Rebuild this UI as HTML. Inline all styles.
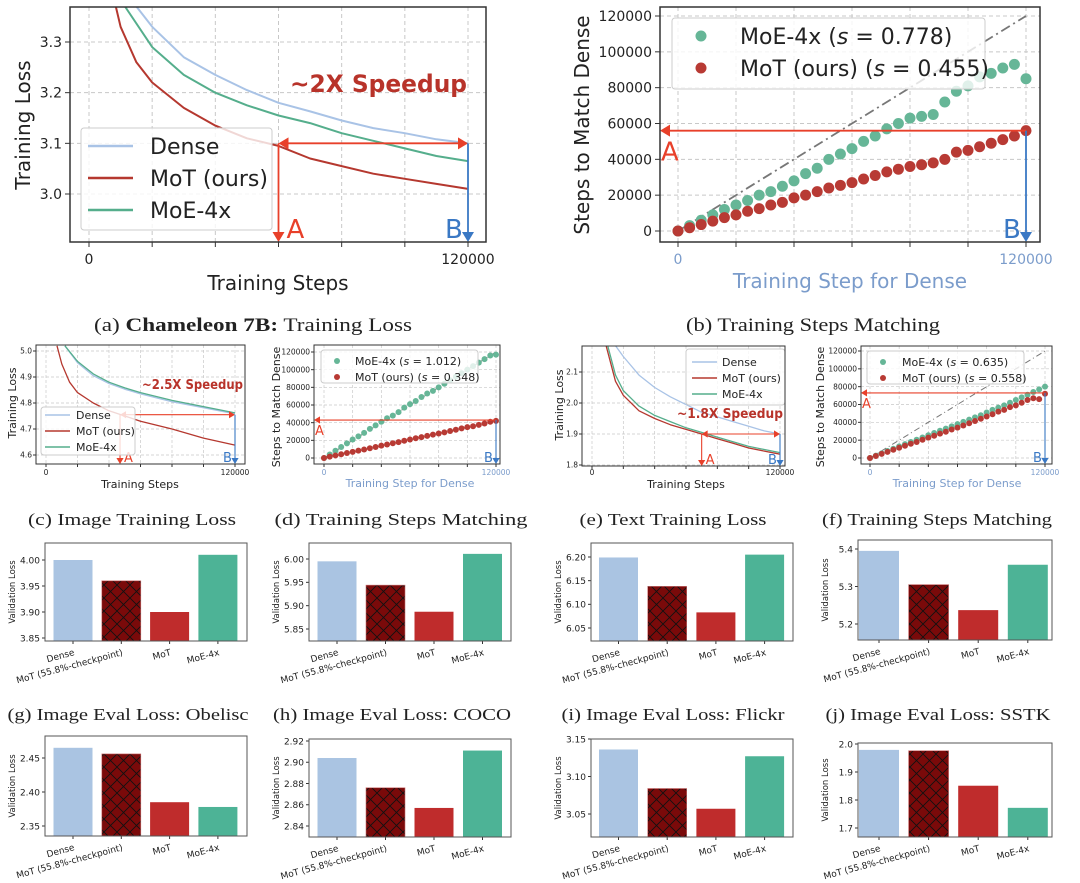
<!DOCTYPE html>
<html><head><meta charset="utf-8"><style>
html,body{margin:0;padding:0;background:#fff;}
svg{display:block;}
</style></head><body>
<svg id="fig" xmlns="http://www.w3.org/2000/svg" width="1080" height="883" viewBox="0 0 1080 883">
<defs>
<pattern id="hatch" patternUnits="userSpaceOnUse" width="13" height="13">
<rect width="13" height="13" fill="#7a0a0a"/>
<path d="M0,0L13,13M13,0L0,13" stroke="#111" stroke-width="0.9"/>
</pattern>
</defs>
<rect x="0" y="0" width="1080" height="883" fill="#fff"/>
</svg>
<script>
// ---------- DATA ----------
// Panel (a)
const aDenseSteps=[15000,20000,30000,40000,50000,60000,70000,80000,90000,100000,110000,120000];
const aDense=[3.37,3.33,3.27,3.235,3.205,3.18,3.163,3.145,3.13,3.12,3.108,3.10];
const aMoESteps=[11400,20000,30000,40000,50000,60000,70000,80000,90000,100000,110000,120000];
const aMoE=[3.37,3.29,3.235,3.20,3.175,3.155,3.14,3.12,3.105,3.09,3.075,3.065];
const aMoTSteps=[8500,10000,15000,20000,30000,40000,50000,60000,70000,80000,90000,100000,110000,120000];
const aMoT=[3.37,3.33,3.26,3.22,3.17,3.135,3.11,3.095,3.07,3.055,3.04,3.03,3.02,3.01];
const aYTicks=[3.0,3.1,3.2,3.3];
const aYLabels=["3.0","3.1","3.2","3.3"];
// Panel (c)
const cDenseSteps=[12000,20000,30000,40000,50000,60000,80000,100000,120000];
const cDense=[5.02,4.955,4.905,4.875,4.853,4.835,4.805,4.782,4.758];
const cMoESteps=[12000,20000,30000,40000,50000,60000,80000,100000,120000];
const cMoE=[5.02,4.96,4.912,4.88,4.858,4.84,4.81,4.786,4.762];
const cMoTSteps=[7000,10000,15000,20000,30000,40000,50000,60000,80000,100000,120000];
const cMoT=[5.02,4.95,4.88,4.84,4.80,4.77,4.75,4.73,4.70,4.665,4.638];
const cYTicks=[4.6,4.7,4.8,4.9,5.0];
const cYLabels=["4.6","4.7","4.8","4.9","5.0"];
// Panel (e)
const eDenseSteps=[15000,20000,30000,40000,50000,60000,70000,80000,90000,100000,110000,120000];
const eDense=[2.185,2.15,2.09,2.05,2.02,1.995,1.97,1.955,1.94,1.925,1.91,1.90];
const eMoESteps=[10000,15000,20000,30000,40000,50000,60000,70000,80000,90000,100000,110000,120000];
const eMoE=[2.185,2.09,2.04,1.99,1.96,1.94,1.92,1.905,1.89,1.875,1.86,1.85,1.84];
const eMoTSteps=[9000,15000,20000,30000,40000,50000,60000,70000,80000,90000,100000,110000,120000];
const eMoT=[2.185,2.07,2.025,1.975,1.95,1.93,1.915,1.90,1.885,1.87,1.855,1.845,1.835];
const eYTicks=[1.8,1.9,2.0,2.1];
const eYLabels=["1.8","1.9","2.0","2.1"];
// Scatter panels (steps for dense, every 4000)
const matchSteps=[0,4000,8000,12000,16000,20000,24000,28000,32000,36000,40000,44000,48000,52000,56000,60000,64000,68000,72000,76000,80000,84000,88000,92000,96000,100000,104000,108000,112000,116000,120000];
const bMoE=[0,3000,6000,9000,12000,14500,17000,20000,22000,25000,28000,32000,35000,40000,43000,46000,50000,53000,57000,60000,63000,64000,65000,72000,78000,81000,86000,88000,91000,93000,85000];
const bMoT=[0,1800,3600,5500,7500,9000,11000,12500,14500,16000,18500,20000,22000,24000,25500,27000,29000,31000,33000,34500,36000,37000,38000,40000,44000,45000,47000,49000,51000,53000,56000];
const dMoE=[0,4000,8200,12500,16500,21000,24500,28500,33000,37000,41000,45000,48000,52000,57000,61000,64500,69000,73000,76000,80000,84000,88000,92000,96000,100000,104000,108000,112000,116000,117000];
const dMoT=[0,1500,2900,4200,5600,7000,8400,9600,11000,12500,14000,15300,16700,18000,19500,21000,22300,23600,25000,26500,27800,29000,30500,32000,33500,35000,36000,37500,39000,41000,42000];
const fMoE=[0,2600,5200,7800,10400,13000,15500,18000,20500,23000,25500,28000,30500,33000,35500,38000,40500,43000,45500,48000,51000,54000,56500,59000,62000,65000,68000,71000,74000,77000,80000];
const fMoT=[0,2300,4600,6900,9200,11500,13800,16000,18000,20500,22800,25000,27300,29500,32000,34000,36500,39000,41500,44000,46500,49000,52000,54000,57000,59000,62000,65000,67000,66000,72000];
const matchYTicks=[0,20000,40000,60000,80000,100000,120000];
const matchYLabels=["0","20000","40000","60000","80000","100000","120000"];
// Bar panels
const barCats=["Dense","MoT (55.8%-checkpoint)","MoT","MoE-4x"];
const gObelisc=[4.00,3.96,3.90,4.01];
const hCOCO=[5.995,5.944,5.887,6.011];
const iFlickr=[6.199,6.138,6.083,6.205];
const jSSTK=[5.395,5.305,5.237,5.358];
const g2Vals=[2.465,2.456,2.385,2.378];
const h2Vals=[2.904,2.876,2.857,2.911];
const i2Vals=[3.136,3.084,3.057,3.127];
const j2Vals=[1.979,1.976,1.851,1.772];
const gTicks=[3.85,3.90,3.95,4.00], gLabels=["3.85","3.90","3.95","4.00"];
const hTicks=[5.85,5.90,5.95,6.00], hLabels=["5.85","5.90","5.95","6.00"];
const iTicks=[6.05,6.10,6.15,6.20], iLabels=["6.05","6.10","6.15","6.20"];
const jTicks=[5.2,5.3,5.4], jLabels=["5.2","5.3","5.4"];
const g2Ticks=[2.35,2.40,2.45], g2Labels=["2.35","2.40","2.45"];
const h2Ticks=[2.84,2.86,2.88,2.90,2.92], h2Labels=["2.84","2.86","2.88","2.90","2.92"];
const i2Ticks=[3.05,3.10,3.15], i2Labels=["3.05","3.10","3.15"];
const j2Ticks=[1.7,1.8,1.9,2.0], j2Labels=["1.7","1.8","1.9","2.0"];

// ---------- HELPERS ----------
const NS='http://www.w3.org/2000/svg';
const svg=document.getElementById('fig');
const F='"DejaVu Sans","Liberation Sans",sans-serif';
const SERIF='"Liberation Serif","DejaVu Serif",serif';
function el(tag,attrs,parent,name){
  const e=document.createElementNS(NS,tag);
  for(const k in attrs) e.setAttribute(k,attrs[k]);
  
  
  (parent||svg).appendChild(e);
  return e;
}
function txt(s,attrs,parent,name){const e=el('text',attrs,parent,name);e.textContent=s;return e;}
function tri(g,x,y,dir,s,color,name){
  let p;
  if(dir==='down') p=[[x-s*0.6,y-s],[x+s*0.6,y-s],[x,y]];
  else if(dir==='left') p=[[x+s,y-s*0.6],[x+s,y+s*0.6],[x,y]];
  else p=[[x-s,y-s*0.6],[x-s,y+s*0.6],[x,y]];
  el('polygon',{points:p.map(q=>q.join(',')).join(' '),fill:color},g,name);
}
const C={dense:'#a9c3e6',mot:'#b5382f',moe:'#55ae8c',sMoE:'#66b697',sMoT:'#b83a34',red:'#e8402a',blue:'#3a78c4',xblue:'#7b9ccb'};
let clipId=0;

function axesFrame(g,p,yTicks,yLabels,xLabelColor){
  const [bx0,by0,bx1,by1]=p.box;
  const sx=v=>p.x0+(v/120000)*(p.x1-p.x0);
  const sy=v=>p.py0+(v-p.v0)*(p.py1-p.py0)/(p.v1-p.v0);
  const grid=el('g',{stroke:'#c8c8c8','stroke-width':p.big?1:0.7,'stroke-dasharray':p.big?'4,3':'3,2'},g,'grid');
  for(let s=0;s<=120000;s+=20000) el('line',{x1:sx(s),x2:sx(s),y1:by0,y2:by1},grid,'grid-line-x');
  yTicks.forEach(v=>el('line',{x1:bx0,x2:bx1,y1:sy(v),y2:sy(v)},grid,'grid-line-y'));
  const fs=p.big?14:7.5;
  yTicks.forEach((v,i)=>{
    el('line',{x1:bx0-(p.big?5:3),x2:bx0,y1:sy(v),y2:sy(v),stroke:'#333','stroke-width':1},g,'y-tick');
    txt(yLabels[i],{x:bx0-(p.big?8:4),y:sy(v)+fs*0.36,'font-size':fs,'text-anchor':'end','font-family':F,fill:'#222'},g,'y-tick-label');
  });
  for(let s=0;s<=120000;s+=20000) el('line',{x1:sx(s),x2:sx(s),y1:by1,y2:by1+(p.big?5:3),stroke:'#333','stroke-width':1},g,'x-tick');
  const xl=p.big?264:475;
  txt('0',{x:sx(0),y:xl,'font-size':fs,'text-anchor':'middle','font-family':F,fill:xLabelColor},g,'x-tick-label');
  txt('120000',{x:sx(120000),y:xl,'font-size':fs,'text-anchor':'middle','font-family':F,fill:xLabelColor},g,'x-tick-label');
  return {sx,sy};
}
function clipFor(g,p){
  const id='clip'+(clipId++);
  const cp=el('clipPath',{id:id},g,'clip');
  el('rect',{x:p.box[0],y:p.box[1],width:p.box[2]-p.box[0],height:p.box[3]-p.box[1]},cp,'clip-rect');
  return el('g',{'clip-path':'url(#'+id+')'},g,'plot-area');
}
function frame(g,p){
  el('rect',{x:p.box[0],y:p.box[1],width:p.box[2]-p.box[0],height:p.box[3]-p.box[1],fill:'none',stroke:'#333','stroke-width':p.big?1.5:1},g,'axes-frame');
}

function linePanel(p,series,yTicks,yLabels,ann,legend){
  const g=el('g',{},svg,p.name);
  const {sx,sy}=axesFrame(g,p,yTicks,yLabels,'#222');
  const pa=clipFor(g,p);
  series.forEach(s=>{
    const pts=s.steps.map((st,i)=>sx(st).toFixed(1)+','+sy(s.vals[i]).toFixed(1)).join(' ');
    el('polyline',{points:pts,fill:'none',stroke:s.color,'stroke-width':p.big?2:1.3,'stroke-linejoin':'round'},pa,s.name);
  });
  const ax=sx(ann.aStep), bx=sx(120000), ly=sy(ann.level), bot=p.box[3];
  const lw=p.big?1.8:1.1, hs=p.big?10:6;
  el('line',{x1:ax,x2:ax,y1:ly,y2:bot-hs,stroke:C.red,'stroke-width':lw},g,'arrow-a-vertical');
  tri(g,ax,bot,'down',hs,C.red,'arrow-a-head');
  el('line',{x1:ax+hs,x2:bx-hs,y1:ly,y2:ly,stroke:C.red,'stroke-width':lw},g,'speedup-arrow');
  tri(g,ax,ly,'left',hs,C.red,'speedup-arrow-head-left');
  tri(g,bx,ly,'right',hs,C.red,'speedup-arrow-head-right');
  el('line',{x1:bx,x2:bx,y1:ly,y2:bot-hs,stroke:C.blue,'stroke-width':lw},g,'arrow-b-vertical');
  tri(g,bx,bot,'down',hs,C.blue,'arrow-b-head');
  const lf=p.big?26:13;
  txt('A',{x:ax+(p.big?8:4),y:bot-(p.big?4:2),'font-size':lf,'font-family':F,fill:C.red},g,'label-a');
  txt('B',{x:bx-(p.big?23:12),y:bot-(p.big?4:2),'font-size':lf,'font-family':F,fill:C.blue},g,'label-b');
  txt(ann.text,{x:ann.tx,y:ann.ty,'font-size':ann.fs,'font-family':F,'font-weight':'bold',fill:'#b8332a',textLength:ann.tl,lengthAdjust:'spacingAndGlyphs'},g,'speedup-label');
  const lg=el('g',{},g,'legend');
  el('rect',{x:legend.x,y:legend.y,width:legend.w,height:legend.h,rx:3,fill:'#fff','fill-opacity':0.8,stroke:'#ccc'},lg,'legend-box');
  series.forEach((s,i)=>{
    const y=legend.rows[i];
    el('line',{x1:legend.l0,x2:legend.l1,y1:y,y2:y,stroke:s.color,'stroke-width':p.big?2.5:1.5},lg,'legend-line');
    txt(s.label,{x:legend.tx,y:y+legend.fs*0.36,'font-size':legend.fs,'font-family':F,fill:'#222'},lg,'legend-label');
  });
  frame(g,p);
  txt('Training Steps',{x:p.xlx,y:p.xly,'font-size':p.big?20:11,'text-anchor':'middle','font-family':F,fill:'#222'},g,'x-axis-title');
  txt('Training Loss',{x:0,y:0,transform:`translate(${p.ylx},${p.yly}) rotate(-90)`,'font-size':p.big?20:11,'text-anchor':'middle','font-family':F,fill:'#222'},g,'y-axis-title');
}

function legendLabel(lg,base,sval,x,y,fs){
  const t=el('text',{x:x,y:y,'font-size':fs,'font-family':F,fill:'#222'},lg,'legend-label');
  const t1=el('tspan',{},t,'legend-label-text');t1.textContent=base+' (';
  const t2=el('tspan',{'font-style':'italic'},t,'legend-label-s');t2.textContent='s';
  const t3=el('tspan',{},t,'legend-label-value');t3.textContent=' = '+sval+')';
}

function scatterPanel(p,moe,mot,svals,level,legend){
  const g=el('g',{},svg,p.name);
  const {sx,sy}=axesFrame(g,p,matchYTicks,matchYLabels,C.xblue);
  const pa=clipFor(g,p);
  el('line',{x1:sx(0),y1:sy(0),x2:sx(120000),y2:sy(120000),stroke:'#777','stroke-width':p.big?1.8:1,'stroke-dasharray':p.big?'10,4,2,4':'6,3,1,3'},pa,'identity-line');
  const r=p.big?5.5:3;
  matchSteps.forEach((st,i)=>el('circle',{cx:sx(st),cy:sy(moe[i]),r:r,fill:C.sMoE},pa,'point-moe'));
  matchSteps.forEach((st,i)=>el('circle',{cx:sx(st),cy:sy(mot[i]),r:r,fill:C.sMoT},pa,'point-mot'));
  const ly=sy(level), bx=sx(120000), bot=p.box[3], lw=p.big?1.8:1.1, hs=p.big?10:6;
  el('line',{x1:p.box[0]+hs,x2:bx,y1:ly,y2:ly,stroke:C.red,'stroke-width':lw},g,'arrow-a-horizontal');
  tri(g,p.box[0],ly,'left',hs,C.red,'arrow-a-head');
  el('line',{x1:bx,x2:bx,y1:ly,y2:bot-hs,stroke:C.blue,'stroke-width':lw},g,'arrow-b-vertical');
  tri(g,bx,bot,'down',hs,C.blue,'arrow-b-head');
  const lf=p.big?26:13;
  txt('A',{x:p.box[0]+1,y:ly+(p.big?30:15),'font-size':lf,'font-family':F,fill:C.red},g,'label-a');
  txt('B',{x:bx-(p.big?23:12),y:bot-(p.big?4:2),'font-size':lf,'font-family':F,fill:C.blue},g,'label-b');
  const lg=el('g',{},g,'legend');
  el('rect',{x:legend.x,y:legend.y,width:legend.w,height:legend.h,rx:3,fill:'#fff','fill-opacity':0.8,stroke:'#ccc'},lg,'legend-box');
  el('circle',{cx:legend.dx,cy:legend.rows[0],r:r,fill:C.sMoE},lg,'legend-dot-moe');
  legendLabel(lg,'MoE-4x',svals[0],legend.tx,legend.rows[0]+legend.fs*0.36,legend.fs);
  el('circle',{cx:legend.dx,cy:legend.rows[1],r:r,fill:C.sMoT},lg,'legend-dot-mot');
  legendLabel(lg,'MoT (ours)',svals[1],legend.tx,legend.rows[1]+legend.fs*0.36,legend.fs);
  frame(g,p);
  txt('Training Step for Dense',{x:p.xlx,y:p.xly,'font-size':p.big?20:11,'text-anchor':'middle','font-family':F,fill:C.xblue},g,'x-axis-title');
  txt('Steps to Match Dense',{x:0,y:0,transform:`translate(${p.ylx},${p.yly}) rotate(-90)`,'font-size':p.big?20:11,'text-anchor':'middle','font-family':F,fill:'#222'},g,'y-axis-title');
}

const barFills=['#aac4e2','url(#hatch)','#bf2c2c','#4db396'];
function barPanel(b,vals,ticks,labels){
  const g=el('g',{},svg,b.name);
  const [bx0,by0,bx1,by1]=b.box;
  const sy=v=>b.py0+(v-b.v0)*(b.py1-b.py0)/(b.v1-b.v0);
  const cx=i=>bx0+b.c0+i*b.step;
  const pa=clipFor(g,{box:b.box});
  vals.forEach((v,i)=>{
    el('rect',{x:cx(i)-b.w/2,y:sy(v),width:b.w,height:by1-sy(v),fill:barFills[i],stroke:i===1?'#c87070':'none','stroke-width':0.6},pa,'bar-'+barCats[i].split(' ')[0].toLowerCase()+(i===1?'-checkpoint':''));
  });
  ticks.forEach((v,i)=>{
    el('line',{x1:bx0-3,x2:bx0,y1:sy(v),y2:sy(v),stroke:'#333'},g,'y-tick');
    txt(labels[i],{x:bx0-5,y:sy(v)+3.3,'font-size':9,'text-anchor':'end','font-family':F,fill:'#222'},g,'y-tick-label');
  });
  barCats.forEach((c,i)=>{
    el('line',{x1:cx(i),x2:cx(i),y1:by1,y2:by1+3,stroke:'#333'},g,'x-tick');
    txt(c,{x:0,y:0,transform:`translate(${cx(i)+2},${by1+14}) rotate(-15)`,'font-size':9,'text-anchor':'end','font-family':F,fill:'#222'},g,'x-tick-label');
  });
  el('rect',{x:bx0,y:by0,width:bx1-bx0,height:by1-by0,fill:'none',stroke:'#555','stroke-width':1},g,'axes-frame');
  txt('Validation Loss',{x:0,y:0,transform:`translate(${bx0-30},${(by0+by1)/2}) rotate(-90)`,'font-size':8.5,'text-anchor':'middle','font-family':F,fill:'#222'},g,'y-axis-title');
}

// ---------- DRAW ----------
linePanel({name:'panel-a-training-loss',big:true,box:[70,7,486,242],x0:89,x1:468,v0:3.0,py0:194,v1:3.3,py1:42,xlx:278,xly:290,ylx:30,yly:125},
 [{name:'line-dense',label:'Dense',color:C.dense,steps:aDenseSteps,vals:aDense},
  {name:'line-mot',label:'MoT (ours)',color:C.mot,steps:aMoTSteps,vals:aMoT},
  {name:'line-moe',label:'MoE-4x',color:C.moe,steps:aMoESteps,vals:aMoE}],
 aYTicks,aYLabels,
 {aStep:60000,level:3.1,text:'~2X Speedup',tx:290,ty:92,fs:24,tl:177},
 {x:81,y:128,w:191,h:102,l0:88,l1:133,tx:150,rows:[146,178,210],fs:22});

scatterPanel({name:'panel-b-steps-matching',big:true,box:[660,7,1040,242],x0:678,x1:1026,v0:0,py0:231,v1:120000,py1:16,xlx:850,xly:288,ylx:589,yly:125},
 bMoE,bMoT,['0.778','0.455'],56000,
 {x:672,y:18,w:313,h:71,dx:701,tx:740,rows:[36,68],fs:22});

linePanel({name:'panel-c-image-training-loss',big:false,box:[36,345,245,464],x0:46,x1:235,v0:4.6,py0:455,v1:5.0,py1:351,xlx:140,xly:488,ylx:16,yly:403},
 [{name:'line-dense',label:'Dense',color:C.dense,steps:cDenseSteps,vals:cDense},
  {name:'line-mot',label:'MoT (ours)',color:C.mot,steps:cMoTSteps,vals:cMoT},
  {name:'line-moe',label:'MoE-4x',color:C.moe,steps:cMoESteps,vals:cMoE}],
 cYTicks,cYLabels,
 {aStep:47000,level:4.755,text:'~2.5X Speedup',tx:142,ty:389,fs:13,tl:101},
 {x:41,y:407,w:94,h:48,l0:45,l1:70,tx:76,rows:[415,431,447],fs:11});

scatterPanel({name:'panel-d-image-steps-matching',big:false,box:[314,345,500,464],x0:324,x1:496,v0:0,py0:458,v1:120000,py1:352,xlx:410,xly:487,ylx:280,yly:407},
 dMoE,dMoT,['1.012','0.348'],43000,
 {x:321,y:350,w:157,h:33,dx:337,tx:355,rows:[361,377],fs:11});

linePanel({name:'panel-e-text-training-loss',big:false,box:[582,346,785,466],x0:592,x1:780,v0:1.8,py0:465,v1:2.1,py1:372,xlx:686,xly:488,ylx:563,yly:405},
 [{name:'line-dense',label:'Dense',color:C.dense,steps:eDenseSteps,vals:eDense},
  {name:'line-mot',label:'MoT (ours)',color:C.mot,steps:eMoTSteps,vals:eMoT},
  {name:'line-moe',label:'MoE-4x',color:C.moe,steps:eMoESteps,vals:eMoE}],
 eYTicks,eYLabels,
 {aStep:70000,level:1.9,text:'~1.8X Speedup',tx:677,ty:418,fs:13,tl:106},
 {x:686,y:349,w:99,h:56,l0:692,l1:717,tx:722,rows:[362,378,394],fs:11});

scatterPanel({name:'panel-f-text-steps-matching',big:false,box:[861,346,1052,464],x0:870,x1:1045,v0:0,py0:458,v1:120000,py1:351,xlx:957,xly:487,ylx:824,yly:407},
 fMoE,fMoT,['0.635','0.558'],73000,
 {x:867,y:351,w:157,h:33,dx:883,tx:902,rows:[362,378],fs:11});

barPanel({name:'bar-panel-obelisc',box:[45,543,247,641],v0:3.85,py0:638,v1:4.00,py1:560,c0:28,step:48.3,w:39},gObelisc,gTicks,gLabels);
barPanel({name:'bar-panel-coco',box:[309,543,511,641],v0:5.85,py0:629,v1:6.00,py1:559,c0:28,step:48.5,w:39},hCOCO,hTicks,hLabels);
barPanel({name:'bar-panel-flickr',box:[591,543,793,641],v0:6.05,py0:628,v1:6.20,py1:557,c0:27.5,step:48.7,w:39},iFlickr,iTicks,iLabels);
barPanel({name:'bar-panel-sstk',box:[858,540,1052,640],v0:5.2,py0:624,v1:5.4,py1:549,c0:21,step:49.6,w:40},jSSTK,jTicks,jLabels);
barPanel({name:'bar-panel-2-a',box:[45,736,247,836],v0:2.35,py0:826,v1:2.45,py1:758,c0:28,step:48.3,w:39},g2Vals,g2Ticks,g2Labels);
barPanel({name:'bar-panel-2-b',box:[309,739,511,837],v0:2.84,py0:826,v1:2.92,py1:741,c0:28,step:48.5,w:39},h2Vals,h2Ticks,h2Labels);
barPanel({name:'bar-panel-2-c',box:[591,739,793,837],v0:3.05,py0:814,v1:3.15,py1:739,c0:27.5,step:48.7,w:39},i2Vals,i2Ticks,i2Labels);
barPanel({name:'bar-panel-2-d',box:[858,743,1052,837],v0:1.7,py0:828,v1:2.0,py1:744,c0:21,step:49.6,w:40},j2Vals,j2Ticks,j2Labels);

// captions
const cap=el('g',{},svg,'captions');
const ca=el('text',{x:253,y:331,'font-size':19,'text-anchor':'middle','font-family':SERIF,fill:'#222',textLength:318,lengthAdjust:'spacingAndGlyphs'},cap,'caption-a');
const ca1=el('tspan',{},ca,'caption-a-prefix');ca1.textContent='(a) ';
const ca2=el('tspan',{'font-weight':'bold'},ca,'caption-a-bold');ca2.textContent='Chameleon 7B:';
const ca3=el('tspan',{},ca,'caption-a-rest');ca3.textContent=' Training Loss';
[['(b) Training Steps Matching',813,331,19,254,'caption-b'],
 ['(c) Image Training Loss',132,525,17,208,'caption-c'],
 ['(d) Training Steps Matching',401,525,17,253,'caption-d'],
 ['(e) Text Training Loss',673,525,17,187,'caption-e'],
 ['(f) Training Steps Matching',937,525,17,230,'caption-f'],
 ['(g) Image Eval Loss: Obelisc',128,720,17,241,'caption-g'],
 ['(h) Image Eval Loss: COCO',392,720,17,238,'caption-h'],
 ['(i) Image Eval Loss: Flickr',673,720,17,223,'caption-i'],
 ['(j) Image Eval Loss: SSTK',938,720,17,225,'caption-j']].forEach(c=>{
  txt(c[0],{x:c[1],y:c[2],'font-size':c[3],'text-anchor':'middle','font-family':SERIF,fill:'#222',textLength:c[4],lengthAdjust:'spacingAndGlyphs'},cap,c[5]);
});
</script>
</body></html>
